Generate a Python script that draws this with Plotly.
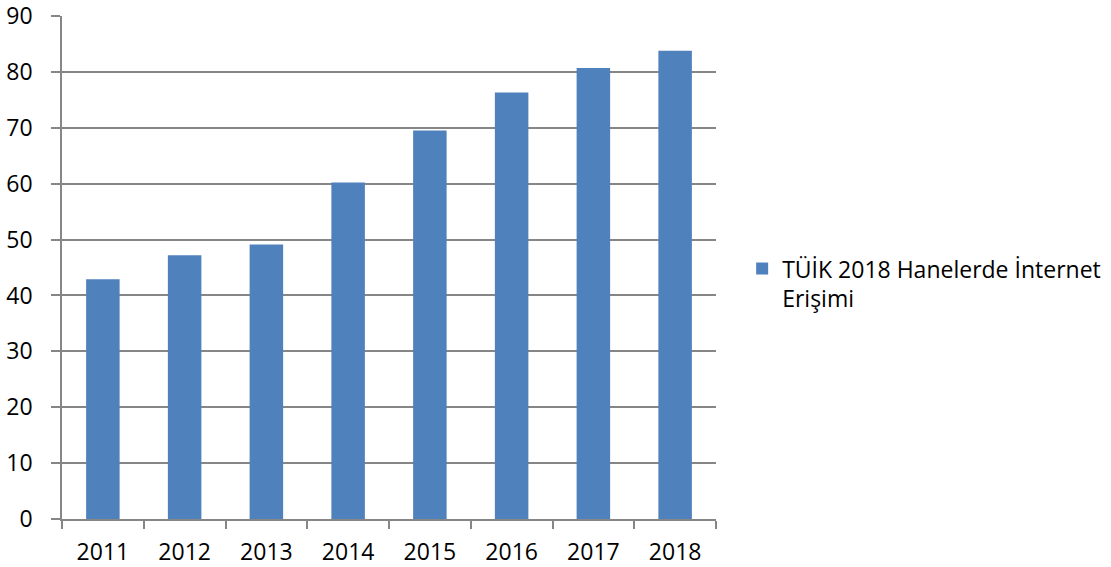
import plotly.graph_objects as go

years = ["2011", "2012", "2013", "2014", "2015", "2016", "2017", "2018"]
values = [42.9, 47.2, 49.1, 60.2, 69.5, 76.3, 80.7, 83.8]
series_name = "TÜİK 2018 Hanelerde İnternet<br>Erişimi"

grid = "#868686"
font = dict(family="Open Sans, Noto Sans, sans-serif", size=23, color="#000000")

fig = go.Figure(go.Bar(
    x=years, y=values, name=series_name,
    marker=dict(color="#4F81BD", line=dict(width=0)),
))

fig.update_layout(
    width=1111, height=567,
    margin=dict(l=62, r=395, t=16, b=48, autoexpand=False),
    paper_bgcolor="white", plot_bgcolor="white",
    font=font,
    bargap=0.59,
    showlegend=True,
    legend=dict(x=1.04, y=0.468, xanchor="left", yanchor="middle",
                valign="top", font=dict(size=23), itemwidth=30,
                tracegroupgap=0),
)
fig.update_xaxes(
    type="category", showgrid=False, showline=True, linecolor=grid, linewidth=1.5,
    ticks="outside", tickson="boundaries", ticklen=8, tickcolor=grid, tickwidth=1.5,
    tickfont=font, automargin=False, ticklabelstandoff=12, ticklabeloverflow="allow",
)
fig.update_yaxes(
    range=[0, 90], dtick=10, showgrid=True, gridcolor=grid, gridwidth=1.5,
    showline=True, linecolor=grid, linewidth=1.5, zeroline=False,
    ticks="outside", ticklen=9, tickcolor=grid, tickwidth=1.5,
    tickfont=font, automargin=False, ticklabelstandoff=14, ticklabeloverflow="allow",
)

fig.write_html("out.html", config={"displayModeBar": False},
               post_script="document.body.style.margin='0';document.body.style.overflow='hidden';")
